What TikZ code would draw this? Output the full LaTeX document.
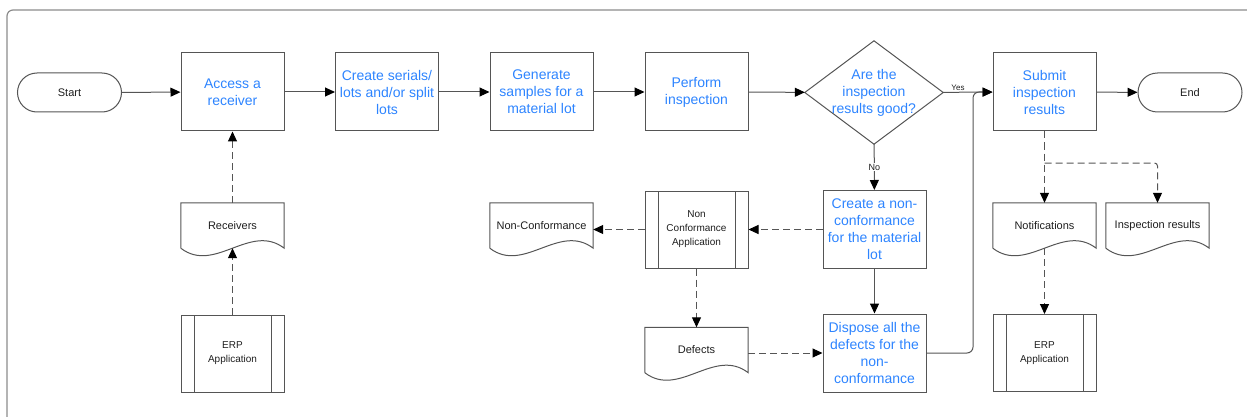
\documentclass[tikz,border=0pt]{standalone}
\usepackage{fontspec}
\setmainfont{Liberation Sans}
\usetikzlibrary{arrows.meta}
\definecolor{stepblue}{RGB}{45,132,255}
\definecolor{edgegray}{RGB}{85,85,85}
\definecolor{framegray}{RGB}{140,140,140}
\definecolor{inkdark}{RGB}{30,30,30}
\tikzset{
  box/.style={draw=edgegray, line width=1pt, minimum width=103pt, minimum height=78pt,
    inner sep=2pt, align=center, text=stepblue, font=\fontsize{14}{17}\selectfont},
  term/.style={draw=edgegray, line width=1pt, rounded corners=19.5pt, minimum width=104pt,
    minimum height=39pt, text=inkdark, font=\fontsize{11}{13}\selectfont},
  app/.style={draw=edgegray, line width=1pt, minimum width=103pt, minimum height=77pt,
    align=center, text=inkdark, font=\fontsize{10}{14}\selectfont,
    path picture={\draw[edgegray, line width=1pt]
      ([xshift=13pt]path picture bounding box.north west) -- ([xshift=13pt]path picture bounding box.south west)
      ([xshift=-13pt]path picture bounding box.north east) -- ([xshift=-13pt]path picture bounding box.south east);}},
  docu/.style={minimum width=103pt, minimum height=45pt, text=inkdark, font=\fontsize{11}{13}\selectfont,
    append after command={\pgfextra{\draw[edgegray, line width=1pt]
      (\tikzlastnode.south west) -- (\tikzlastnode.north west) -- (\tikzlastnode.north east) -- (\tikzlastnode.south east)
      .. controls ([xshift=-34pt,yshift=26pt]\tikzlastnode.south east) and ([xshift=34pt,yshift=-26pt]\tikzlastnode.south west) .. (\tikzlastnode.south west);}}},
  decide/.style={minimum width=138pt, minimum height=103pt, inner sep=0pt, align=center,
    text=stepblue, font=\fontsize{14}{17}\selectfont,
    append after command={\pgfextra{\draw[edgegray, line width=1pt]
      (\tikzlastnode.north) -- (\tikzlastnode.east) -- (\tikzlastnode.south) -- (\tikzlastnode.west) -- cycle;}}},
  flow/.style={draw=edgegray, line width=1pt, -{Triangle[length=10pt,width=9pt,color=black]}},
  dataflow/.style={flow, dash pattern=on 7pt off 4pt},
  answer/.style={text=inkdark, font=\fontsize{8}{9}\selectfont, inner sep=1pt}
}
\begin{document}
\begin{tikzpicture}[x=1pt,y=-1pt]
\useasboundingbox (0,0) rectangle (1247,417);
\draw[framegray, line width=1.2pt, rounded corners=6pt] (1247,10) -- (7,10) -- (7,417);

% main flow
\node[term] (start) at (69.5,92.5) {Start};
\node[box] (access) at (232.5,92) {Access a\\receiver};
\node[box] (serials) at (387,92) {Create serials/\\lots and/or split\\lots};
\node[box] (samples) at (541.5,92) {Generate\\samples for a\\material lot};
\node[box] (inspect) at (696.5,92) {Perform\\inspection};
\node[decide] (check) at (874,92.5) {Are the\\inspection\\results good?};
\node[box] (submit) at (1044.5,92) {Submit\\inspection\\results};
\node[term] (finish) at (1190,92.5) {End};

% receivers side
\node[docu] (receivers) at (232.5,225.5) {Receivers};
\node[app] (erpin) at (232.5,353.5) {ERP\\Application};

% non-conformance branch
\node[docu] (ncdoc) at (541.5,225.5) {Non-Conformance};
\node[app] (ncapp) at (696.5,229.5) {Non\\Conformance\\Application};
\node[docu] (defects) at (696.5,350) {Defects};
\node[box] (ncreate) at (874.5,229.5) {Create a non-\\conformance\\for the material\\lot};
\node[box] (dispose) at (874.5,353) {Dispose all the\\defects for the\\non-\\conformance};

% results side
\node[docu] (notif) at (1044.5,225.5) {Notifications};
\node[docu] (insres) at (1157.5,225.5) {Inspection results};
\node[app] (erpout) at (1044.5,353) {ERP\\Application};

\coordinate (bend) at (973,200);
\coordinate (fork) at (1044.5,163);

\draw[flow] (start) -- (access);
\draw[flow] (access) -- (serials);
\draw[flow] (serials) -- (samples);
\draw[flow] (samples) -- (inspect);
\draw[flow] (inspect) -- (check);
\draw[flow] (check) -- node[answer, above, pos=0.3] {Yes} (submit);
\draw[flow] (submit) -- (finish);
\draw[flow] (check) -- node[answer, fill=white, font=\fontsize{9}{10}\selectfont] {No} (ncreate);
\draw[flow] (ncreate) -- (dispose);
\draw[flow, rounded corners=6pt] (dispose.east) -| (bend) |- (submit.west);

\draw[dataflow] (receivers) -- (access);
\draw[dataflow] (erpin) -- (receivers.south);
\draw[dataflow] (ncreate) -- (ncapp);
\draw[dataflow] (ncapp.west) -- (ncdoc.east |- ncapp.west);
\draw[dataflow] (ncapp) -- (defects);
\draw[dataflow] (defects.east |- dispose.west) -- (dispose.west);
\draw[dataflow] (submit) -- (notif);
\draw[dataflow, rounded corners=3pt] (fork) -| (insres.north);
\draw[dataflow] (notif.south) -- (erpout);
\end{tikzpicture}
\end{document}
